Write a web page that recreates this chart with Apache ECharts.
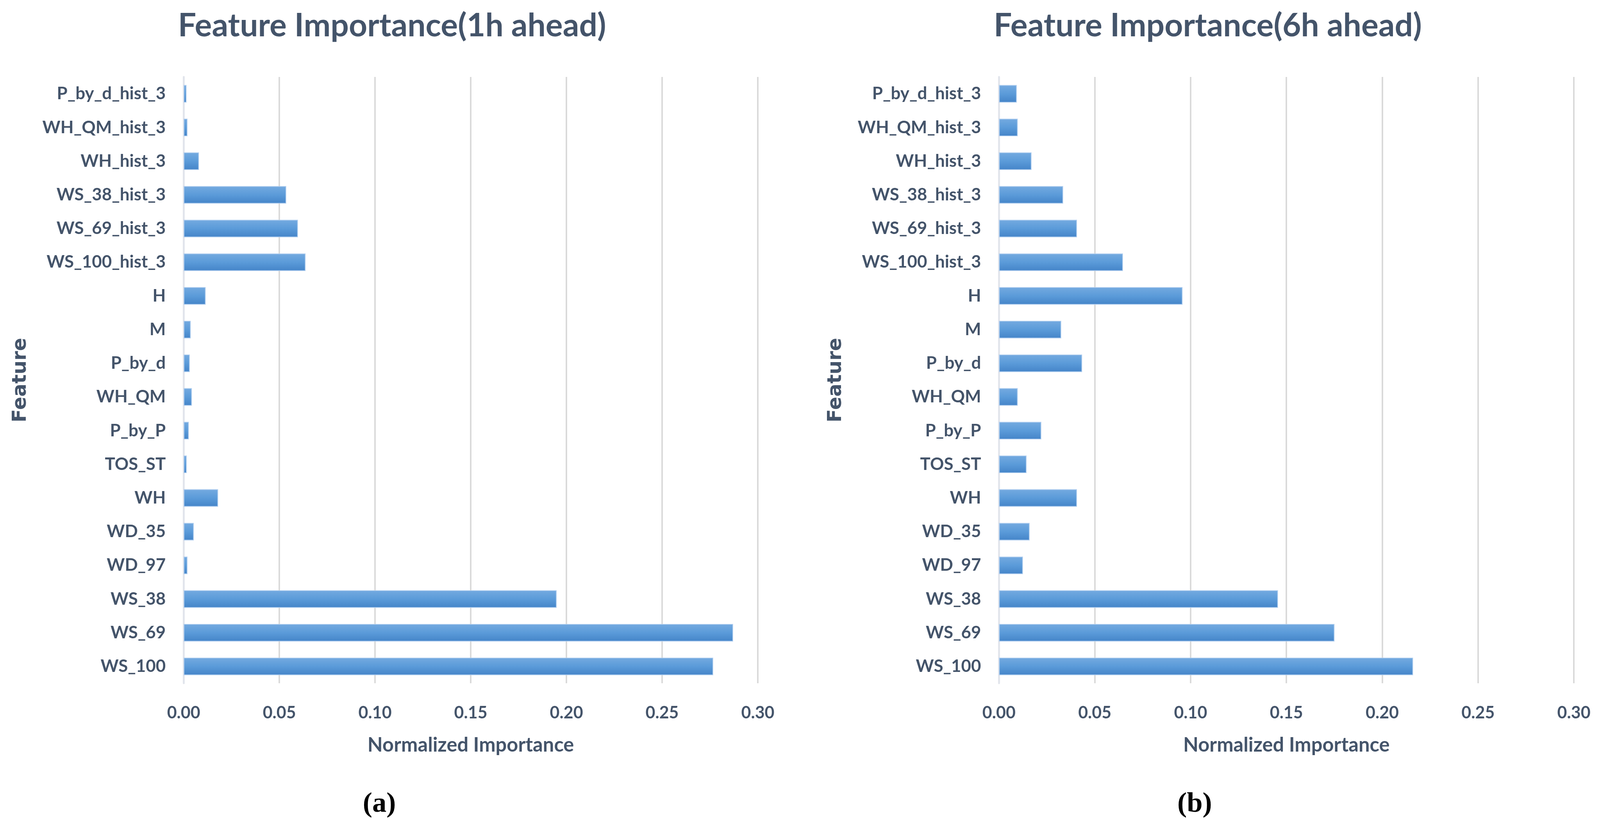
<!DOCTYPE html>
<html>
<head>
<meta charset="utf-8">
<script src="https://cdn.jsdelivr.net/npm/echarts@6/dist/echarts.min.js"></script>
<style>
html,body{margin:0;padding:0;background:#fff;overflow:hidden;width:100%;height:100%;}
#chart{width:100vw;height:100vh;}
</style>
</head>
<body>
<div id="chart"></div>
<script>
const categories = ['P_by_d_hist_3','WH_QM_hist_3','WH_hist_3','WS_38_hist_3','WS_69_hist_3','WS_100_hist_3','H','M','P_by_d','WH_QM','P_by_P','TOS_ST','WH','WD_35','WD_97','WS_38','WS_69','WS_100'];
const importance1h = [0.0015,0.002,0.008,0.0536,0.0597,0.0637,0.0115,0.0037,0.0032,0.0043,0.0027,0.0016,0.018,0.0053,0.002,0.1949,0.2871,0.2767];
const importance6h = [0.0093,0.0098,0.017,0.0335,0.0407,0.0647,0.0958,0.0325,0.0434,0.0098,0.0221,0.0144,0.0407,0.016,0.0125,0.1456,0.1751,0.2161];
const titles = ['Feature Importance(1h ahead)','Feature Importance(6h ahead)'];
const captions = ['a','b'];
const xTickMin = 0, xTickMax = 0.30, xTickStep = 0.05;

const el = document.getElementById('chart');
const W = el.clientWidth || 4286, H = el.clientHeight || 2117;
const sx = W / 4286, sy = H / 2117, s = Math.min(sx, sy);

const TXT = '#44546A';
const FONT = 'Lato, "Open Sans", sans-serif';
const SERIF = '"Liberation Serif", "DejaVu Serif", serif';
const grids = [{left:492*sx, top:197*sy, width:1538*sx, height:1552*sy},{left:2676*sx, top:197*sy, width:1540*sx, height:1552*sy}];

const barColor = {type:'linear',x:0,y:0,x2:0,y2:1,colorStops:[{offset:0,color:'#74aae0'},{offset:0.5,color:'#5b9bd9'},{offset:1,color:'#4484c8'}]};

const option = {
  backgroundColor:'#fff',
  animation:false,
  title: [0,1].map(i => ({
    text: titles[i], left: grids[i].left + grids[i].width/2 - 216*sx, top: 20*sy, textAlign:'center',
    textStyle:{color:TXT, fontFamily:FONT, fontWeight:'bold', fontSize:86*s}
  })).concat([0,1].map(i => ({
    text:'{p|(}{b|' + captions[i] + '}{p|)}', left: grids[i].left + 519*sx, top: 2018*sy, textAlign:'center',
    textStyle:{rich:{p:{fontFamily:SERIF, fontSize:76*s, color:'#000'}, b:{fontFamily:SERIF, fontSize:76*s, fontWeight:'bold', color:'#000'}}}
  }))),
  grid: grids,
  xAxis: [0,1].map(i => ({
    type:'value', gridIndex:i, min:xTickMin, max:xTickMax, interval:xTickStep,
    name:'Normalized Importance', nameLocation:'middle', nameGap:133*sy,
    nameTextStyle:{color:TXT, fontFamily:FONT, fontWeight:'bold', fontSize:53*s},
    axisLine:{show:false}, axisTick:{show:false},
    axisLabel:{color:TXT, fontFamily:FONT, fontWeight:'bold', fontSize:45*s, margin:55*sy, showMaxLabel:true, formatter:v=>v.toFixed(2)},
    splitLine:{show:true, lineStyle:{color:'#d9d9d9', width:4*s}}
  })),
  yAxis: [0,1].map(i => ({
    type:'category', gridIndex:i, data:categories, inverse:true,
    name:'Feature', nameLocation:'middle', nameGap:410*sx, nameRotate:90,
    nameTextStyle:{color:TXT, fontFamily:'"DejaVu Sans", Verdana, sans-serif', fontWeight:'bold', fontSize:52*s},
    axisLine:{show:true, lineStyle:{color:'#e2e5ec', width:5*s}}, axisTick:{show:false},
    axisLabel:{color:TXT, fontFamily:FONT, fontWeight:'bold', fontSize:46*s, margin:48*sx},
    splitLine:{show:false}
  })),
  series: [importance1h, importance6h].map((d,i) => ({
    type:'bar', xAxisIndex:i, yAxisIndex:i, data:d, barWidth:45*sy,
    itemStyle:{color:barColor, borderColor:'rgba(175,205,238,0.9)', borderWidth:2*s}
  }))
};
const chart = echarts.init(el, null, {renderer:'canvas'});
chart.setOption(option);
</script>
</body>
</html>
